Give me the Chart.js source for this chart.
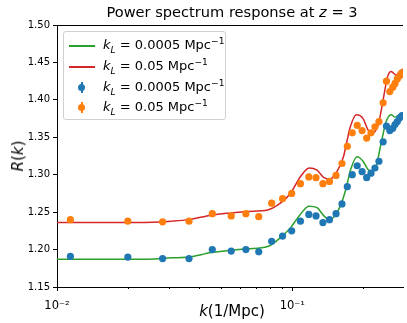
<!DOCTYPE html>
<html>
<head>
<meta charset="utf-8">
<script src="https://cdn.jsdelivr.net/npm/chart.js@4/dist/chart.umd.min.js"></script>
<style>
  body { margin: 0; background: #fff; }
  #wrap { position: relative; width: 407px; height: 323px; font-family: "DejaVu Sans", sans-serif; color: #000; }
  #c { position: absolute; left: 0; top: 0; }
  .title { position: absolute; left: 57px; width: 350px; top: 3px; text-align: center; font-size: 14.6px; white-space: nowrap; }
  .xlab { position: absolute; left: 57px; width: 350px; top: 302px; text-align: center; font-size: 15px; white-space: nowrap; }
  .ylab { position: absolute; left: 18px; top: 156px; font-size: 15px; white-space: nowrap; transform: translate(-50%, -50%) rotate(-90deg); }
  .legend { position: absolute; left: 63px; top: 31px; width: 163px; height: 89px; box-sizing: border-box;
            border: 1px solid #d0d0d0; border-radius: 3px; background: rgba(255,255,255,0.8); }
  .row { position: absolute; left: 0; height: 20px; width: 100%; }
  .row .txt { position: absolute; left: 39px; top: 1px; font-size: 13px; white-space: nowrap; }
  .row .ln { position: absolute; left: 5px; top: 9px; width: 26px; height: 1.5px; }
  .row .bar { position: absolute; left: 17px; top: 4px; width: 1.5px; height: 11px; }
  .row .dot { position: absolute; left: 14px; top: 6px; width: 7px; height: 7px; border-radius: 50%; }
  sub, sup { font-size: 70%; line-height: 0; }
</style>
</head>
<body>
<div id="wrap">
  <canvas id="c" width="407" height="323"></canvas>
  <div class="title">Power spectrum response at <i>z</i> = 3</div>
  <div class="xlab"><i>k</i>(1/Mpc)</div>
  <div class="ylab"><i>R</i>(<i>k</i>)</div>
  <div class="legend">
    <div class="row" style="top:4px"><div class="ln" style="background:#2ca02c"></div><div class="txt"><i>k</i><sub><i>L</i></sub> = 0.0005 Mpc<sup>−1</sup></div></div>
    <div class="row" style="top:25px"><div class="ln" style="background:#d62728"></div><div class="txt"><i>k</i><sub><i>L</i></sub> = 0.05 Mpc<sup>−1</sup></div></div>
    <div class="row" style="top:46px"><div class="bar" style="background:#1f77b4"></div><div class="dot" style="background:#1f77b4"></div><div class="txt"><i>k</i><sub><i>L</i></sub> = 0.0005 Mpc<sup>−1</sup></div></div>
    <div class="row" style="top:66px"><div class="bar" style="background:#ff7f0e"></div><div class="dot" style="background:#ff7f0e"></div><div class="txt"><i>k</i><sub><i>L</i></sub> = 0.05 Mpc<sup>−1</sup></div></div>
  </div>
</div>
<script>
// measured points (k in 1/Mpc)
const kPts = [0.0114, 0.0200, 0.0281, 0.0364, 0.0457, 0.0550, 0.0635, 0.0720, 0.0817, 0.0909,
  0.0994, 0.1083, 0.1175, 0.1261, 0.1349, 0.1439, 0.1534, 0.1626, 0.1713, 0.1798,
  0.1887, 0.1980, 0.2070, 0.2160, 0.2245, 0.2334, 0.2432, 0.2512, 0.2596, 0.2673,
  0.2732, 0.2794, 0.2859, 0.2923];
const blueR = [1.191, 1.190, 1.188, 1.188, 1.200, 1.198, 1.200, 1.197, 1.211, 1.218,
  1.225, 1.238, 1.247, 1.245, 1.236, 1.240, 1.248, 1.261, 1.284, 1.300,
  1.312, 1.304, 1.296, 1.302, 1.309, 1.318, 1.344, 1.365, 1.359, 1.362,
  1.367, 1.371, 1.376, 1.379];
const orangeR = [1.240, 1.238, 1.237, 1.238, 1.248, 1.245, 1.248, 1.244, 1.262, 1.268,
  1.275, 1.288, 1.297, 1.296, 1.288, 1.291, 1.299, 1.315, 1.338, 1.356,
  1.366, 1.359, 1.349, 1.356, 1.364, 1.371, 1.396, 1.425, 1.411, 1.417,
  1.422, 1.428, 1.432, 1.436];

// theory curves
const kGreen = [0.0100, 0.0152, 0.0223, 0.0308, 0.0363, 0.0453, 0.0550, 0.0646, 0.0785, 0.0890,
  0.0981, 0.1081, 0.1179, 0.1274, 0.1363, 0.1431, 0.1516, 0.1607, 0.1687, 0.1770,
  0.1885, 0.1998, 0.2097, 0.2169, 0.2276, 0.2388, 0.2506, 0.2630, 0.2734, 0.2842, 0.2954];
const greenR = [1.187, 1.187, 1.187, 1.189, 1.190, 1.196, 1.199, 1.201, 1.204, 1.216,
  1.229, 1.247, 1.258, 1.256, 1.245, 1.240, 1.245, 1.260, 1.280, 1.307,
  1.324, 1.318, 1.307, 1.305, 1.313, 1.343, 1.371, 1.380, 1.377, 1.380, 1.383];
const kRed = [0.0100, 0.0152, 0.0223, 0.0308, 0.0363, 0.0453, 0.0550, 0.0646, 0.0785, 0.0890,
  0.0981, 0.1081, 0.1179, 0.1274, 0.1363, 0.1444, 0.1516, 0.1576, 0.1653, 0.1702,
  0.1760, 0.1874, 0.1998, 0.2097, 0.2169, 0.2320, 0.2432, 0.2540, 0.2630, 0.2761, 0.2856, 0.2954];
const redR = [1.236, 1.236, 1.236, 1.238, 1.240, 1.246, 1.249, 1.251, 1.253, 1.262,
  1.275, 1.297, 1.309, 1.306, 1.296, 1.294, 1.300, 1.309, 1.325, 1.343,
  1.363, 1.380, 1.375, 1.360, 1.355, 1.367, 1.400, 1.431, 1.438, 1.433, 1.438, 1.441];

// axis ticks
const xTicks = [0.01, 0.02, 0.03, 0.04, 0.05, 0.06, 0.07, 0.08, 0.09, 0.1, 0.2];
const xMajor = {0.01: "10⁻²", 0.1: "10⁻¹"};
const yTicks = [1.15, 1.20, 1.25, 1.30, 1.35, 1.40, 1.45, 1.50];

const pairs = (xs, ys) => xs.map((x, i) => ({x: x, y: ys[i]}));

// top spine + log minor/major ticks like matplotlib
const axesDecor = {
    id: 'axesDecor',
    afterDraw(chart) {
        const ctx = chart.ctx;
        const area = chart.chartArea;
        const xs = chart.scales.x;
        ctx.save();
        ctx.strokeStyle = '#000';
        ctx.lineWidth = 1;
        ctx.beginPath();
        ctx.moveTo(area.left, area.top + 0.5);
        ctx.lineTo(area.right, area.top + 0.5);
        xTicks.forEach(v => {
            const px = Math.round(xs.getPixelForValue(v)) + 0.5;
            const len = xMajor[v] ? 4 : 2;
            ctx.moveTo(px, area.bottom);
            ctx.lineTo(px, area.bottom + len);
        });
        ctx.stroke();
        ctx.restore();
    }
};

const tickFont = { family: "DejaVu Sans", size: 10 };

new Chart(document.getElementById('c'), {
    type: 'line',
    data: {
        datasets: [
            { data: pairs(kPts, blueR), showLine: false, pointRadius: 3.6, pointBackgroundColor: '#1f77b4', pointBorderWidth: 0 },
            { data: pairs(kPts, orangeR), showLine: false, pointRadius: 3.6, pointBackgroundColor: '#ff7f0e', pointBorderWidth: 0 },
            { data: pairs(kGreen, greenR), borderColor: '#2ca02c', borderWidth: 1.5, pointRadius: 0, cubicInterpolationMode: 'monotone', fill: false },
            { data: pairs(kRed, redR), borderColor: '#d62728', borderWidth: 1.5, pointRadius: 0, cubicInterpolationMode: 'monotone', fill: false }
        ]
    },
    options: {
        responsive: false,
        animation: false,
        events: [],
        layout: { padding: { left: 0, right: 0, top: 25, bottom: 0 } },
        plugins: { legend: { display: false }, tooltip: { enabled: false } },
        scales: {
            x: {
                type: 'logarithmic',
                min: 0.01,
                max: 0.2954,
                grid: { display: false },
                border: { display: true, color: '#000', width: 1 },
                afterBuildTicks: s => { s.ticks = xTicks.map(v => ({ value: v })); },
                afterFit: s => { s.height = 36; },
                ticks: {
                    autoSkip: false,
                    maxRotation: 0,
                    padding: 4,
                    color: '#000',
                    font: { family: "DejaVu Sans", size: 11.5 },
                    callback: v => xMajor[v] || ''
                }
            },
            y: {
                min: 1.15,
                max: 1.50,
                grid: { drawOnChartArea: false, tickLength: 4, tickColor: '#000' },
                border: { display: true, color: '#000', width: 1 },
                afterBuildTicks: s => { s.ticks = yTicks.map(v => ({ value: v })); },
                afterFit: s => { s.width = 57; },
                ticks: {
                    padding: 3,
                    color: '#000',
                    font: tickFont,
                    callback: v => Number(v).toFixed(2)
                }
            }
        }
    },
    plugins: [axesDecor]
});
</script>
</body>
</html>
